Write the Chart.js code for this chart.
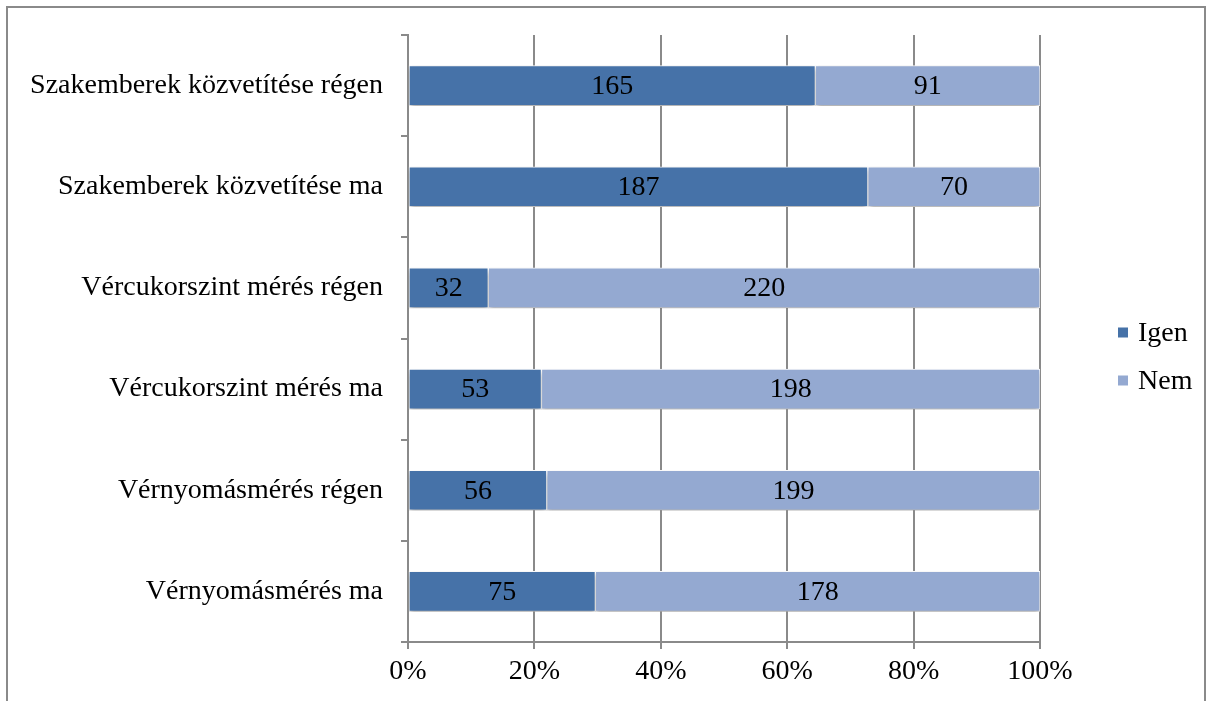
<!DOCTYPE html>
<html><head><meta charset="utf-8">
<script src="https://cdn.jsdelivr.net/npm/chart.js@4.4.0/dist/chart.umd.min.js"></script>
<style>
html,body{margin:0;padding:0;background:#fff;}
#wrap{position:relative;width:1213px;height:701px;overflow:hidden;background:#fff;}
#frame{position:absolute;left:6px;top:6px;width:1200px;height:740px;border:2px solid #8a8a8a;box-sizing:border-box;}
canvas{position:absolute;left:0;top:0;}
</style></head><body>
<div id="wrap"><div id="frame"></div><canvas id="c" width="1213" height="701"></canvas></div>
<script>
const categories = [
  'Szakemberek közvetítése régen',
  'Szakemberek közvetítése ma',
  'Vércukorszint mérés régen',
  'Vércukorszint mérés ma',
  'Vérnyomásmérés régen',
  'Vérnyomásmérés ma'
];
const igenCounts = [165, 187, 32, 53, 56, 75];
const nemCounts  = [91, 70, 220, 198, 199, 178];
const seriesNames = ['Igen', 'Nem'];
const seriesColors = ['#4672a8', '#94a9d1'];
const xTickStep = 20;

const counts = [igenCounts, nemCounts];
const totals = categories.map((_, i) => igenCounts[i] + nemCounts[i]);
const pct = arr => arr.map((v, i) => v / totals[i] * 100);

const FONT = {family: '"Liberation Serif", "Times New Roman", serif', size: 28};
const GRID = '#8a8a8a';

const shadowPlugin = {
  id: 'shadow',
  beforeDatasetsDraw(chart) {
    const ctx = chart.ctx;
    ctx.save();
    ctx.shadowColor = 'rgba(0,0,0,0.35)';
    ctx.shadowBlur = 5;
    ctx.shadowOffsetY = 3;
  },
  afterDatasetsDraw(chart) {
    chart.ctx.restore();
  }
};

const labelPlugin = {
  id: 'valueLabels',
  afterDatasetsDraw(chart) {
    const ctx = chart.ctx;
    ctx.save();
    ctx.font = `${FONT.size}px ${FONT.family}`;
    ctx.fillStyle = '#000';
    ctx.textAlign = 'center';
    ctx.textBaseline = 'middle';
    chart.data.datasets.forEach((ds, di) => {
      const meta = chart.getDatasetMeta(di);
      meta.data.forEach((el, i) => {
        const cx = (el.x + el.base) / 2;
        ctx.fillText(String(counts[di][i]), cx, el.y + 1);
      });
    });
    ctx.restore();
  }
};

const legendPlugin = {
  id: 'sideLegend',
  afterDraw(chart) {
    const ctx = chart.ctx;
    const ca = chart.chartArea;
    const x0 = ca.right + 78;
    const yMid = (ca.top + ca.bottom) / 2 + 18;
    const gap = 48;
    ctx.save();
    ctx.font = `${FONT.size}px ${FONT.family}`;
    ctx.textBaseline = 'middle';
    ctx.textAlign = 'left';
    chart.data.datasets.forEach((ds, i) => {
      const y = yMid + (i - (chart.data.datasets.length - 1) / 2) * gap;
      ctx.fillStyle = ds.backgroundColor;
      ctx.fillRect(x0, y - 5, 10, 10);
      ctx.fillStyle = '#000';
      ctx.fillText(ds.label, x0 + 20, y + 1);
    });
    ctx.restore();
  }
};

new Chart(document.getElementById('c'), {
  type: 'bar',
  data: {
    labels: categories,
    datasets: seriesNames.map((name, i) => ({
      label: name,
      data: pct(counts[i]),
      backgroundColor: seriesColors[i],
      borderColor: '#ffffff',
      borderWidth: 1,
      borderSkipped: false,
      barThickness: 40
    }))
  },
  options: {
    indexAxis: 'y',
    responsive: false,
    animation: false,
    devicePixelRatio: 1,
    layout: {padding: {top: 35, right: 173, left: 0, bottom: 0}},
    plugins: {legend: {display: false}, tooltip: {enabled: false}},
    scales: {
      x: {
        stacked: true,
        min: 0, max: 100,
        ticks: {stepSize: xTickStep, callback: v => v + '%', color: '#000', font: FONT, padding: 6, maxRotation: 0},
        grid: {color: GRID, lineWidth: 2, tickLength: 7, drawOnChartArea: true},
        border: {color: GRID, width: 2},
        afterFit(s) { s.height = 59; }
      },
      y: {
        stacked: true,
        offset: true,
        ticks: {color: '#000', font: FONT, padding: 18},
        grid: {color: GRID, lineWidth: 2, tickLength: 7, drawOnChartArea: false, offset: true},
        border: {color: GRID, width: 2},
        afterFit(s) { s.width = 408; }
      }
    }
  },
  plugins: [shadowPlugin, labelPlugin, legendPlugin]
});
</script>
</body></html>
